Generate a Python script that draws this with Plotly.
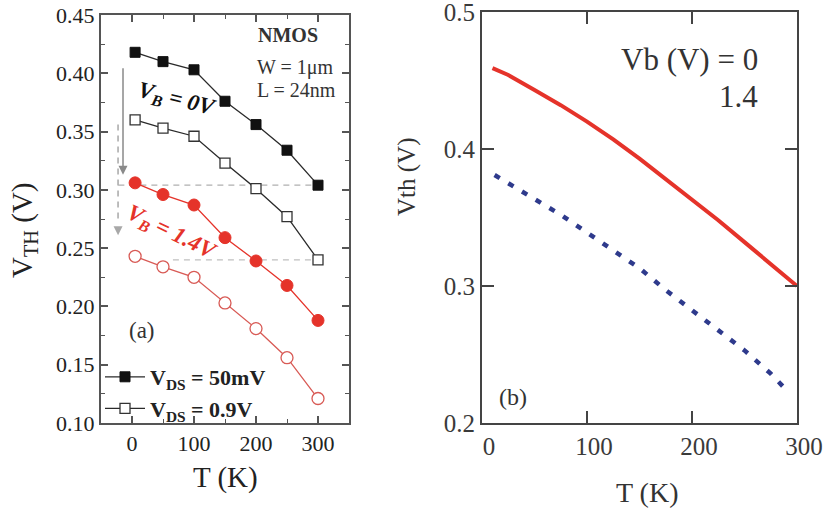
import plotly.graph_objects as go

# ---------------- data: panel (a) ----------------
T_a = [5, 50, 100, 150, 200, 250, 300]
vb0_50mV = [0.418, 0.410, 0.403, 0.376, 0.356, 0.334, 0.304]
vb0_09V = [0.360, 0.353, 0.346, 0.323, 0.301, 0.277, 0.240]
vb14_50mV = [0.306, 0.296, 0.287, 0.259, 0.239, 0.218, 0.188]
vb14_09V = [0.243, 0.234, 0.225, 0.203, 0.181, 0.156, 0.121]

# ---------------- data: panel (b) ----------------
T_b_red = [10, 25, 50, 75, 100, 125, 150, 175, 200, 225, 250, 275, 300]
vth_vb0 = [0.459, 0.454, 0.443, 0.432, 0.420, 0.407, 0.393, 0.378, 0.363, 0.348, 0.332, 0.316, 0.300]
T_b_blue = [12, 25, 50, 75, 100, 125, 150, 175, 200, 225, 250, 275, 290]
vth_vb14 = [0.381, 0.375, 0.364, 0.352, 0.339, 0.326, 0.313, 0.297, 0.282, 0.268, 0.253, 0.236, 0.224]

xa_ticks = [0, 100, 200, 300]
ya_ticks = [0.10, 0.15, 0.20, 0.25, 0.30, 0.35, 0.40, 0.45]
xb_ticks = [0, 100, 200, 300]
yb_ticks = [0.2, 0.3, 0.4, 0.5]

SERIF = "Liberation Serif"
RED = "#e5332a"
BLACK = "#2a2a2a"
W, H = 829, 510

fig = go.Figure()

# panel (a) traces
fig.add_trace(go.Scatter(x=T_a, y=vb0_50mV, mode="lines+markers", name="<b>V<sub>DS</sub> = 50mV</b>",
                         line=dict(color=BLACK, width=1.3),
                         marker=dict(symbol="square", size=10, color="#111111", line=dict(color="#111111", width=1)),
                         xaxis="x", yaxis="y", showlegend=True))
fig.add_trace(go.Scatter(x=T_a, y=vb0_09V, mode="lines+markers", name="<b>V<sub>DS</sub> = 0.9V</b>",
                         line=dict(color=BLACK, width=1.3),
                         marker=dict(symbol="square", size=10, color="white", line=dict(color="#333333", width=1.3)),
                         xaxis="x", yaxis="y", showlegend=True))
fig.add_trace(go.Scatter(x=T_a, y=vb14_50mV, mode="lines+markers",
                         line=dict(color=RED, width=1.3),
                         marker=dict(symbol="circle", size=12, color=RED, line=dict(color=RED, width=1)),
                         xaxis="x", yaxis="y", showlegend=False))
fig.add_trace(go.Scatter(x=T_a, y=vb14_09V, mode="lines+markers",
                         line=dict(color="#d85a55", width=1.3),
                         marker=dict(symbol="circle", size=12, color="white", line=dict(color="#d85a55", width=1.3)),
                         xaxis="x", yaxis="y", showlegend=False))

# panel (b) traces
fig.add_trace(go.Scatter(x=T_b_red, y=vth_vb0, mode="lines", line=dict(color=RED, width=4),
                         xaxis="x2", yaxis="y2", showlegend=False))
fig.add_trace(go.Scatter(x=T_b_blue, y=vth_vb14, mode="lines", line=dict(color="#2e3a8c", width=4.5, dash="6px,10px"),
                         xaxis="x2", yaxis="y2", showlegend=False))

# dashed guide lines & arrows (panel a)
shapes = [
    dict(type="line", xref="x", yref="y", x0=-22, x1=300, y0=vb0_50mV[-1], y1=vb0_50mV[-1],
         line=dict(color="#b0b0b0", width=1.2, dash="6px,5px"), layer="below"),
    dict(type="line", xref="x", yref="y", x0=66, x1=300, y0=vb0_09V[-1], y1=vb0_09V[-1],
         line=dict(color="#c0c0c0", width=1.2, dash="6px,5px"), layer="below"),
    dict(type="line", xref="x", yref="y", x0=-22.5, x1=-22.5, y0=0.356, y1=0.272,
         line=dict(color="#a8a8a8", width=1.5, dash="6px,5px")),
]

axis_font_a = dict(family=SERIF, size=22, color="#222222")
axis_font_b = dict(family=SERIF, size=25, color="#3a3a3a")

annotations = [
    # solid arrow
    dict(x=-14.5, y=0.313, ax=-14.5, ay=0.413, xref="x", yref="y", axref="x", ayref="y",
         showarrow=True, arrowhead=2, arrowsize=1.2, arrowwidth=1.5, arrowcolor="#8a8a8a", text=" "),
    # dashed arrow head
    dict(x=-22.5, y=0.261, ax=-22.5, ay=0.275, xref="x", yref="y", axref="x", ayref="y",
         showarrow=True, arrowhead=2, arrowsize=1.2, arrowwidth=1.5, arrowcolor="#a8a8a8", text=" "),
    dict(x=72, y=0.377, xref="x", yref="y", text="<b><i>V<sub>B</sub> = 0V</i></b>", showarrow=False,
         textangle=14, font=dict(family=SERIF, size=23, color="#111111")),
    dict(x=63, y=0.263, xref="x", yref="y", text="<b><i>V<sub>B</sub> = 1.4V</i></b>", showarrow=False,
         textangle=26, font=dict(family=SERIF, size=23, color=RED)),
    dict(x=252, y=0.433, xref="x", yref="y", text="<b>NMOS</b>", showarrow=False,
         font=dict(family=SERIF, size=20, color="#333333")),
    dict(x=264, y=0.405, xref="x", yref="y", text="W = 1μm", showarrow=False,
         font=dict(family=SERIF, size=20, color="#333333")),
    dict(x=266, y=0.386, xref="x", yref="y", text="L = 24nm", showarrow=False,
         font=dict(family=SERIF, size=20, color="#333333")),
    dict(x=16, y=0.179, xref="x", yref="y", text="(a)", showarrow=False,
         font=dict(family=SERIF, size=23, color="#333333")),
    # panel (a) axis titles
    dict(x=225 / W, y=1 - 477 / H, xref="paper", yref="paper", xanchor="center", yanchor="middle",
         text="T (K)", showarrow=False, font=dict(family=SERIF, size=29, color="#222222")),
    dict(x=24 / W, y=1 - 230 / H, xref="paper", yref="paper", xanchor="center", yanchor="middle",
         text="V<sub>TH</sub> (V)", showarrow=False,
         textangle=-90, font=dict(family=SERIF, size=29, color="#222222")),
    # panel (b)
    dict(x=265, y=0.465, xref="x2", yref="y2", xanchor="right", text="Vb (V) = 0", showarrow=False,
         font=dict(family=SERIF, size=31, color="#333333")),
    dict(x=265, y=0.438, xref="x2", yref="y2", xanchor="right", text="1.4", showarrow=False,
         font=dict(family=SERIF, size=31, color="#333333")),
    dict(x=29.5, y=0.219, xref="x2", yref="y2", text="(b)", showarrow=False,
         font=dict(family=SERIF, size=24, color="#333333")),
    dict(x=647 / W, y=1 - 492 / H, xref="paper", yref="paper", xanchor="center", yanchor="middle",
         text="T (K)", showarrow=False, font=dict(family=SERIF, size=28, color="#333333")),
    dict(x=407 / W, y=1 - 177 / H, xref="paper", yref="paper", xanchor="center", yanchor="middle",
         text="Vth (V)", showarrow=False,
         textangle=-90, font=dict(family=SERIF, size=25, color="#333333")),
]

common_a = dict(showgrid=False, zeroline=False, showline=True, linewidth=2, linecolor="#555555",
                mirror="allticks", ticks="inside", tickwidth=1.5, tickcolor="#555555", ticklen=7,
                tickfont=axis_font_a, automargin=False, ticklabeloverflow="allow")
common_b = dict(showgrid=False, zeroline=False, showline=True, linewidth=2.2, linecolor="#444444",
                mirror="allticks", ticks="inside", tickwidth=2, tickcolor="#444444", ticklen=12,
                tickfont=axis_font_b, automargin=False, ticklabeloverflow="allow")

fig.update_layout(
    width=W, height=H,
    margin=dict(l=0, r=0, t=0, b=0, autoexpand=False),
    paper_bgcolor="white", plot_bgcolor="white",
    xaxis=dict(domain=[101 / W, 349 / W], range=[-50, 350], tickvals=xa_ticks, anchor="y",
               minor=dict(tickvals=[50, 150, 250], ticks="inside", ticklen=4, tickwidth=1.3, tickcolor="#555555"),
               **common_a),
    yaxis=dict(domain=[1 - 423 / H, 1 - 15 / H], range=[0.10, 0.45], tickvals=ya_ticks, tickformat=".2f",
               anchor="x",
               minor=dict(dtick=0.025, tick0=0.1, ticks="inside", ticklen=4, tickwidth=1.3, tickcolor="#555555"),
               **common_a),
    xaxis2=dict(domain=[482 / W, 797 / W], range=[0, 300], tickvals=xb_ticks, anchor="y2",
                ticklabelshift=7, **common_b),
    yaxis2=dict(domain=[1 - 423 / H, 1 - 12 / H], range=[0.2, 0.5], tickvals=yb_ticks, tickformat=".1f",
                anchor="x2", **common_b),
    legend=dict(x=100 / W, y=1 - 356 / H, xanchor="left", yanchor="top", bgcolor="rgba(0,0,0,0)",
                font=dict(family=SERIF, size=22, color="#222222"), tracegroupgap=0, itemwidth=40),
    shapes=shapes,
    annotations=annotations,
)

fig.write_html("out.html")
